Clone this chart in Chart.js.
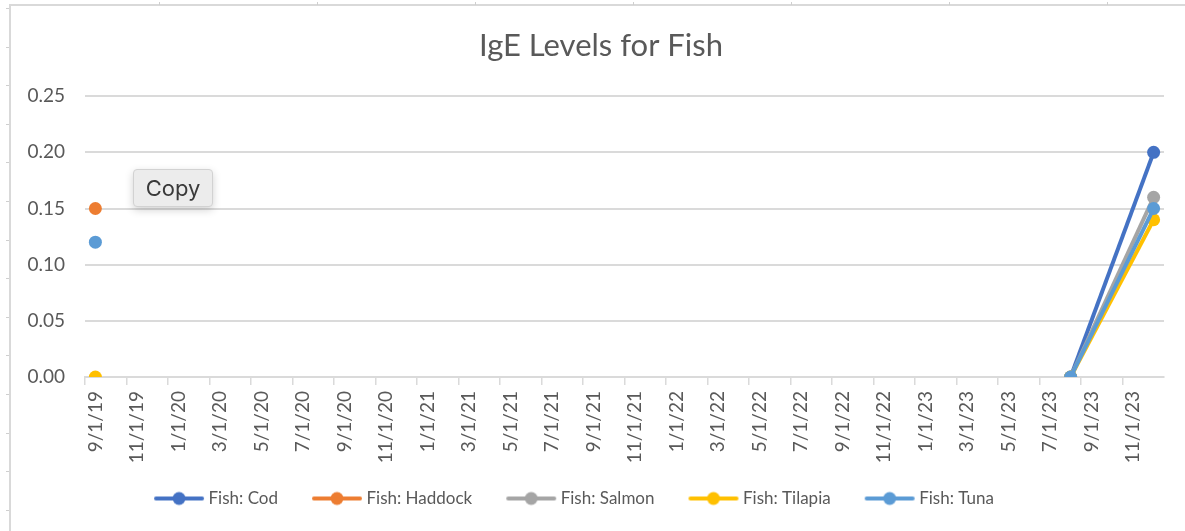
<!DOCTYPE html>
<html>
<head>
<meta charset="utf-8">
<script src="https://cdn.jsdelivr.net/npm/chart.js@4.4.0/dist/chart.umd.min.js"></script>
<style>
    html, body { margin: 0; padding: 0; background: #fff; overflow: hidden; }
    #wrap { position: relative; width: 1185px; height: 531px; overflow: hidden; }
    #frame { position: absolute; left: 9px; top: 4px; width: 1300px; height: 700px; border: 2px solid #d9d9d9; }
    #myChart { position: absolute; left: 0; top: 0; }
    .mark { position: absolute; background: #cfcfcf; }
    #copy {
        position: absolute; left: 133px; top: 169px; width: 80px; height: 38px;
        background: #ececec; border: 1px solid #d2d2d2; border-radius: 4px;
        box-shadow: 0 3px 8px rgba(0, 0, 0, 0.18);
        font-family: Inter, sans-serif; font-size: 22px; color: #3a3a3a;
        line-height: 37px; text-align: center; box-sizing: border-box;
    }
</style>
</head>
<body>
<div id="wrap">
    <div id="frame"></div>
    <canvas id="myChart" width="1185" height="531"></canvas>
    <div id="copy">Copy</div>
</div>
<script>
const chartTitle = 'IgE Levels for Fish';

// monthly date axis, labels shown every second month
const months = [
    '9/1/19', '10/1/19', '11/1/19', '12/1/19',
    '1/1/20', '2/1/20', '3/1/20', '4/1/20', '5/1/20', '6/1/20', '7/1/20', '8/1/20', '9/1/20', '10/1/20', '11/1/20', '12/1/20',
    '1/1/21', '2/1/21', '3/1/21', '4/1/21', '5/1/21', '6/1/21', '7/1/21', '8/1/21', '9/1/21', '10/1/21', '11/1/21', '12/1/21',
    '1/1/22', '2/1/22', '3/1/22', '4/1/22', '5/1/22', '6/1/22', '7/1/22', '8/1/22', '9/1/22', '10/1/22', '11/1/22', '12/1/22',
    '1/1/23', '2/1/23', '3/1/23', '4/1/23', '5/1/23', '6/1/23', '7/1/23', '8/1/23', '9/1/23', '10/1/23', '11/1/23', '12/1/23'
];

const seriesNames = ['Fish: Cod', 'Fish: Haddock', 'Fish: Salmon', 'Fish: Tilapia', 'Fish: Tuna'];
const seriesColors = ['#4472C4', '#ED7D31', '#A5A5A5', '#FFC000', '#5B9BD5'];

const codDates = ['8/1/23', '12/1/23'];
const codValues = [0.00, 0.20];
const haddockDates = ['9/1/19'];
const haddockValues = [0.15];
const salmonDates = ['8/1/23', '12/1/23'];
const salmonValues = [0.00, 0.16];
const tilapiaDates = ['9/1/19', '8/1/23', '12/1/23'];
const tilapiaValues = [0.00, 0.00, 0.14];
const tunaDates = ['9/1/19', '8/1/23', '12/1/23'];
const tunaValues = [0.12, 0.00, 0.15];

const yTicks = [0, 0.05, 0.10, 0.15, 0.20, 0.25];

function toPoints(dates, values) {
    return dates.map((d, i) => ({ x: d, y: values[i] }));
}

// line + marker legend symbol, with empty room on the left for item spacing
function legendIcon(color) {
    const c = document.createElement('canvas');
    c.width = 100;
    c.height = 16;
    const g = c.getContext('2d');
    g.strokeStyle = color;
    g.lineWidth = 4;
    g.lineCap = 'round';
    g.beginPath();
    g.moveTo(40, 8);
    g.lineTo(86, 8);
    g.stroke();
    g.fillStyle = color;
    g.beginPath();
    g.arc(63, 8, 6.5, 0, Math.PI * 2);
    g.fill();
    return c;
}

// small ruler marks around the frame
const wrap = document.getElementById('wrap');
for (let y = 8; y < 531; y += 38.6) {
    const m = document.createElement('div');
    m.className = 'mark';
    m.style.cssText = 'left:6px;top:' + Math.round(y) + 'px;width:3px;height:1px;';
    wrap.appendChild(m);
}
for (let x = 159; x < 1185; x += 158) {
    const m = document.createElement('div');
    m.className = 'mark';
    m.style.cssText = 'left:' + x + 'px;top:2px;width:1px;height:3px;';
    wrap.appendChild(m);
}

const allData = [
    toPoints(codDates, codValues),
    toPoints(haddockDates, haddockValues),
    toPoints(salmonDates, salmonValues),
    toPoints(tilapiaDates, tilapiaValues),
    toPoints(tunaDates, tunaValues)
];
const icons = seriesColors.map(legendIcon);

const textColor = '#595959';
const gridColor = '#dadada';
const font = 'Lato';

const nudge = {
    id: 'nudge',
    afterLayout(chart) {
        chart.titleBlock.left += 14;
        chart.titleBlock.right += 14;
        chart.legend.left -= 24;
        chart.legend.right -= 24;
    }
};

const ctx = document.getElementById('myChart').getContext('2d');
new Chart(ctx, {
    type: 'line',
    plugins: [nudge],
    data: {
        labels: months,
        datasets: seriesNames.map((name, i) => ({
            label: name,
            data: allData[i],
            borderColor: seriesColors[i],
            backgroundColor: seriesColors[i],
            pointBackgroundColor: seriesColors[i],
            pointBorderColor: seriesColors[i],
            borderWidth: 4,
            pointRadius: 6.5,
            pointBorderWidth: 0,
            spanGaps: 5,
            order: seriesNames.length - i
        }))
    },
    options: {
        responsive: false,
        animation: false,
        layout: { padding: { left: 10, right: 21, top: 0, bottom: 14 } },
        plugins: {
            title: {
                display: true,
                text: chartTitle,
                color: textColor,
                font: { family: font, size: 31, weight: 'normal' },
                padding: { top: 27, bottom: 32 }
            },
            legend: {
                position: 'bottom',
                labels: {
                    usePointStyle: true,
                    pointStyleWidth: 68,
                    padding: 12,
                    color: textColor,
                    font: { family: font, size: 17 },
                    sort: (a, b) => a.datasetIndex - b.datasetIndex,
                    generateLabels: chart => {
                        const items = Chart.defaults.plugins.legend.labels.generateLabels(chart);
                        items.forEach(it => { it.pointStyle = icons[it.datasetIndex]; });
                        return items;
                    }
                }
            },
            tooltip: { enabled: false }
        },
        scales: {
            x: {
                type: 'category',
                offset: true,
                afterFit: scale => { scale.height = 101; },
                border: { display: true, color: gridColor, width: 2 },
                grid: {
                    offset: true,
                    drawOnChartArea: false,
                    drawTicks: true,
                    tickLength: 8,
                    lineWidth: 1.5,
                    color: c => (c.index % 2 === 0 ? gridColor : 'rgba(0,0,0,0)')
                },
                ticks: {
                    autoSkip: false,
                    minRotation: 90,
                    maxRotation: 90,
                    padding: 6,
                    color: textColor,
                    font: { family: font, size: 19 },
                    callback: function (value, index) {
                        return index % 2 === 0 ? this.getLabelForValue(value) : '';
                    }
                }
            },
            y: {
                min: 0,
                max: 0.25,
                afterFit: scale => { scale.width = 75; },
                afterBuildTicks: scale => { scale.ticks = yTicks.map(v => ({ value: v })); },
                border: { display: false },
                grid: { color: gridColor, lineWidth: 2, drawTicks: false },
                ticks: {
                    padding: 20,
                    color: textColor,
                    font: { family: font, size: 19 },
                    callback: v => v.toFixed(2)
                }
            }
        }
    }
});
</script>
</body>
</html>
